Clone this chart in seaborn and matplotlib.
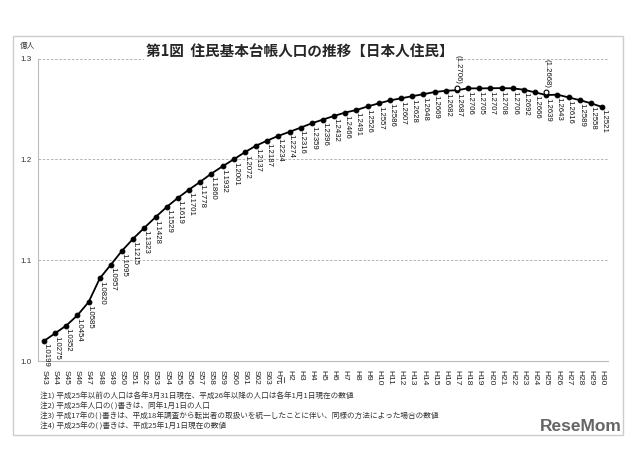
import numpy as np
import pandas as pd
import matplotlib
matplotlib.use("Agg")
import matplotlib.pyplot as plt
from matplotlib.patches import Rectangle
import seaborn as sns

# ---------------- data ----------------
years = ["S43", "S44", "S45", "S46", "S47", "S48", "S49", "S50", "S51", "S52",
         "S53", "S54", "S55", "S56", "S57", "S58", "S59", "S60", "S61", "S62",
         "S63", "H元", "H2", "H3", "H4", "H5", "H6", "H7", "H8", "H9", "H10",
         "H11", "H12", "H13", "H14", "H15", "H16", "H17", "H18", "H19", "H20",
         "H21", "H22", "H23", "H24", "H25", "H26", "H27", "H28", "H29", "H30"]
population = [1.0199, 1.0275, 1.0352, 1.0454, 1.0585, 1.0820, 1.0957, 1.1095,
              1.1215, 1.1323, 1.1428, 1.1529, 1.1619, 1.1701, 1.1778, 1.1860,
              1.1932, 1.2001, 1.2072, 1.2137, 1.2187, 1.2234, 1.2274, 1.2316,
              1.2359, 1.2396, 1.2432, 1.2466, 1.2491, 1.2526, 1.2557, 1.2586,
              1.2607, 1.2628, 1.2648, 1.2669, 1.2682, 1.2687, 1.2706, 1.2705,
              1.2707, 1.2708, 1.2706, 1.2692, 1.2666, 1.2639, 1.2643, 1.2616,
              1.2589, 1.2558, 1.2521]
alt_years = ["H17", "H25"]
alt_values = [1.2706, 1.2668]
y_ticks = [1.0, 1.1, 1.2, 1.3]

title = "第1図  住民基本台帳人口の推移【日本人住民】"
unit = "億人"
notes = [
    "注1) 平成25年以前の人口は各年3月31日現在、平成26年以降の人口は各年1月1日現在の数値",
    "注2) 平成25年人口の( )書きは、同年1月1日の人口",
    "注3) 平成17年の( )書きは、平成18年調査から転出者の取扱いを統一したことに伴い、同様の方法によった場合の数値",
    "注4) 平成25年の( )書きは、平成25年1月1日現在の数値",
]

# ---------------- style ----------------
sns.set_theme(style="white")
plt.rcParams["font.family"] = ["Liberation Sans", "Noto Sans CJK JP", "DejaVu Sans"]

df = pd.DataFrame({"idx": np.arange(len(years)), "year": years, "pop": population})
alt_df = pd.DataFrame({"idx": [years.index(y) for y in alt_years], "pop": alt_values})

fig = plt.figure(figsize=(6.4, 4.49), dpi=100)
ax = fig.add_axes([38.4 / 640, 88 / 449, (607.6 - 38.4) / 640, (361 - 58.7) / 449])

sns.lineplot(data=df, x="idx", y="pop", ax=ax, color="black", linewidth=1.3,
             marker="o", markersize=3.4, markeredgecolor="black", zorder=3)
sns.scatterplot(data=alt_df, x="idx", y="pop", ax=ax, s=12, facecolor="white",
                edgecolor="black", linewidth=0.8, zorder=4)

# data labels
for i, v in zip(df["idx"], df["pop"]):
    ax.annotate(f"{v:.4f}", (i, v), xytext=(1.2, -1.8), textcoords="offset points",
                rotation=-90, ha="center", va="top", fontsize=5.6, color="#111111")
for i, v in zip(alt_df["idx"], alt_df["pop"]):
    ax.annotate(f"({v:.4f})", (i, v), xytext=(0.5, 3), textcoords="offset points",
                rotation=-90, ha="center", va="bottom", fontsize=5.6, color="#111111")

# axes
ax.set_xlim(-0.5, len(years) - 0.5)
ax.set_ylim(1.0, 1.3)
ax.set_yticks(y_ticks)
ax.set_yticklabels([f"{t:.1f}" for t in y_ticks], fontsize=5.8, color="#333333")
ax.set_xticks(df["idx"])
ax.set_xticklabels(years, rotation=-90, fontsize=6, color="#222222")
ax.set_xticks(np.arange(-0.5, len(years), 1.0), minor=True)
ax.tick_params(axis="x", which="major", length=0, pad=6.3)
ax.tick_params(axis="x", which="minor", length=3, width=0.6, color="#bbbbbb", direction="out")
ax.tick_params(axis="y", which="major", length=3, width=0.6, color="#bbbbbb", pad=2)
ax.set_xlabel("")
ax.set_ylabel("")
for y in y_ticks[1:]:
    ax.axhline(y, color="#aaaaaa", linestyle=(0, (3, 2)), linewidth=0.6, zorder=0)
for s in ["top", "right"]:
    ax.spines[s].set_visible(False)
ax.spines["left"].set_color("#bbbbbb")
ax.spines["bottom"].set_color("#bbbbbb")
ax.spines["left"].set_linewidth(0.8)
ax.spines["bottom"].set_linewidth(0.8)

# texts
fig.text(300 / 640, (449 - 52) / 449, title, ha="center", va="center", fontsize=10.5,
         fontweight="bold", family=["Noto Sans CJK JP", "DejaVu Sans"],
         bbox=dict(facecolor="white", edgecolor="none", pad=1.5))
fig.text(28 / 640, (449 - 46) / 449, unit, ha="center", va="center", fontsize=5.5,
         family=["Noto Sans CJK JP", "DejaVu Sans"], color="#333333")
for k, line in enumerate(notes):
    fig.text(40 / 640, (449 - 397 - 10 * k) / 449, line, ha="left", va="center",
             fontsize=5.5, family=["Noto Sans CJK JP", "DejaVu Sans"], color="#333333")
fig.text(622 / 640, (449 - 434) / 449, "ReseMom", ha="right", va="bottom", fontsize=12.5,
         fontweight="bold", color="#666666", family=["Liberation Sans"])

fig.patches.append(Rectangle((13 / 640, (449 - 435) / 449), 610 / 640, 399 / 449,
                             transform=fig.transFigure, fill=False,
                             edgecolor="#cccccc", linewidth=1.0))

fig.savefig("out.png", dpi=100, facecolor="white")
